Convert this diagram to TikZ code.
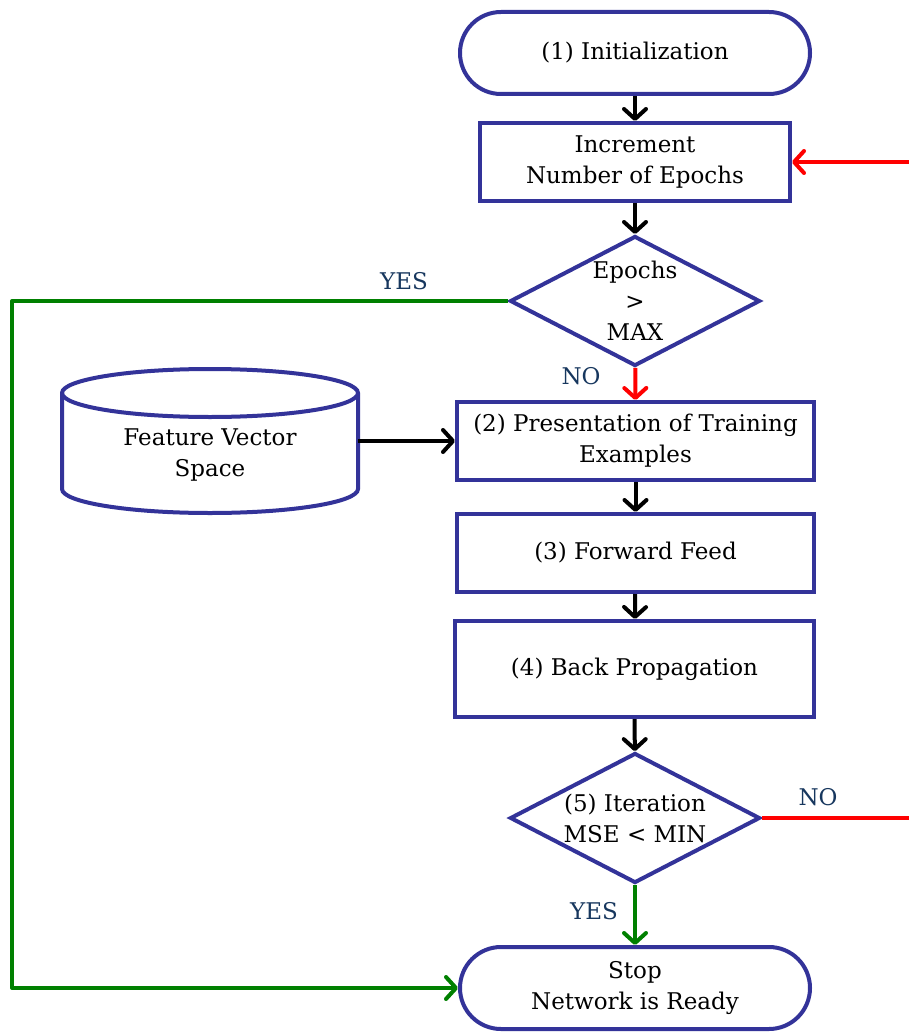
\documentclass[tikz,border=0pt]{standalone}
\usepackage{fontspec}
\setmainfont{DejaVu Serif}
\usetikzlibrary{shapes.misc,shapes.geometric,arrows.meta}
\definecolor{flowblue}{RGB}{51,51,153}
\definecolor{flowgreen}{RGB}{0,128,0}
\definecolor{flowred}{RGB}{255,0,0}
\definecolor{labelnavy}{RGB}{23,55,94}
\begin{document}
\begin{tikzpicture}[x=1pt,y=-1pt,
  every node/.style={font=\fontsize{23}{31}\selectfont, align=center},
  base/.style={draw=flowblue, line width=4pt, fill=white, inner sep=0pt},
  terminal/.style={base, rounded rectangle, minimum width=350pt, minimum height=82pt},
  process/.style={base, rectangle, minimum height=78pt},
  decision/.style={base, diamond, minimum width=250pt, minimum height=130pt},
  store/.style={rectangle, inner sep=0pt, outer sep=0pt,
    minimum width=296pt, minimum height=144pt},
  cylline/.style={draw=flowblue, line width=4pt, fill=white},
  flow/.style={line width=4pt, -{Straight Barb[length=10pt,width=22pt,round]}},
  tag/.style={text=labelnavy, font=\fontsize{23}{26}\selectfont},
]
\useasboundingbox (0,0) rectangle (909,1032);

% flowchart steps
\node[terminal] (init) at (635,53) {(1) Initialization};
\node[process, minimum width=310pt] (inc) at (635,162) {Increment\\Number of Epochs};
\node[decision, label={center:{Epochs\\>\\MAX}}] (epochs) at (635,301) {};
\node[process, minimum width=357pt] (present) at (635.5,441) {(2) Presentation of Training\\Examples};
\node[process, minimum width=357pt] (forward) at (635.5,553) {(3) Forward Feed};
\node[process, minimum width=359pt, minimum height=96pt] (back) at (634.5,669) {(4) Back Propagation};
\node[decision, label={center:{(5) Iteration\\MSE < MIN}}] (iter) at (635,818) {};
\node[terminal] (stop) at (635,988) {Stop\\Network is Ready};

% data store drawn as a cylinder around its node
\node[store] (fvs) at (210,441) {};
\path[cylline] ([yshift=-24pt]fvs.north west) -- ([yshift=24pt]fvs.south west)
  arc[start angle=180, end angle=360, x radius=148pt, y radius=24pt]
  -- ([yshift=-24pt]fvs.north east)
  arc[start angle=0, end angle=180, x radius=148pt, y radius=24pt] -- cycle;
\draw[cylline, fill=none] ([yshift=-24pt]fvs.north west)
  arc[start angle=180, end angle=360, x radius=148pt, y radius=24pt];
\node (fvstext) at (210,455) {Feature Vector\\Space};

% free ends and rails
\coordinate (loopin) at (909,162);
\coordinate (noout) at (909,818);
\coordinate (rail) at (12,0);

% main flow
\draw[flow] (init) -- (inc);
\draw[flow] (inc) -- (epochs);
\draw[flow, flowred] (epochs) -- (present);
\draw[flow] (fvs.east) -- (present.west);
\draw[flow] (present) -- (forward);
\draw[flow] (forward) -- (back);
\draw[flow] (back) -- (iter);
\draw[flow, flowgreen] (iter) -- (stop);

% loop back and exit
\draw[flow, flowred] (loopin) -- (inc.east);
\draw[line width=4pt, flowred] (iter.east) -- (noout);
\draw[flow, flowgreen, line join=round] (epochs.west) -- (epochs.west -| rail) |- (stop.west);

% branch labels
\node[tag] (yes1) at (404,281) {YES};
\node[tag] (no1) at (581,376) {NO};
\node[tag] (no2) at (818,797) {NO};
\node[tag] (yes2) at (594,911) {YES};
\end{tikzpicture}
\end{document}
